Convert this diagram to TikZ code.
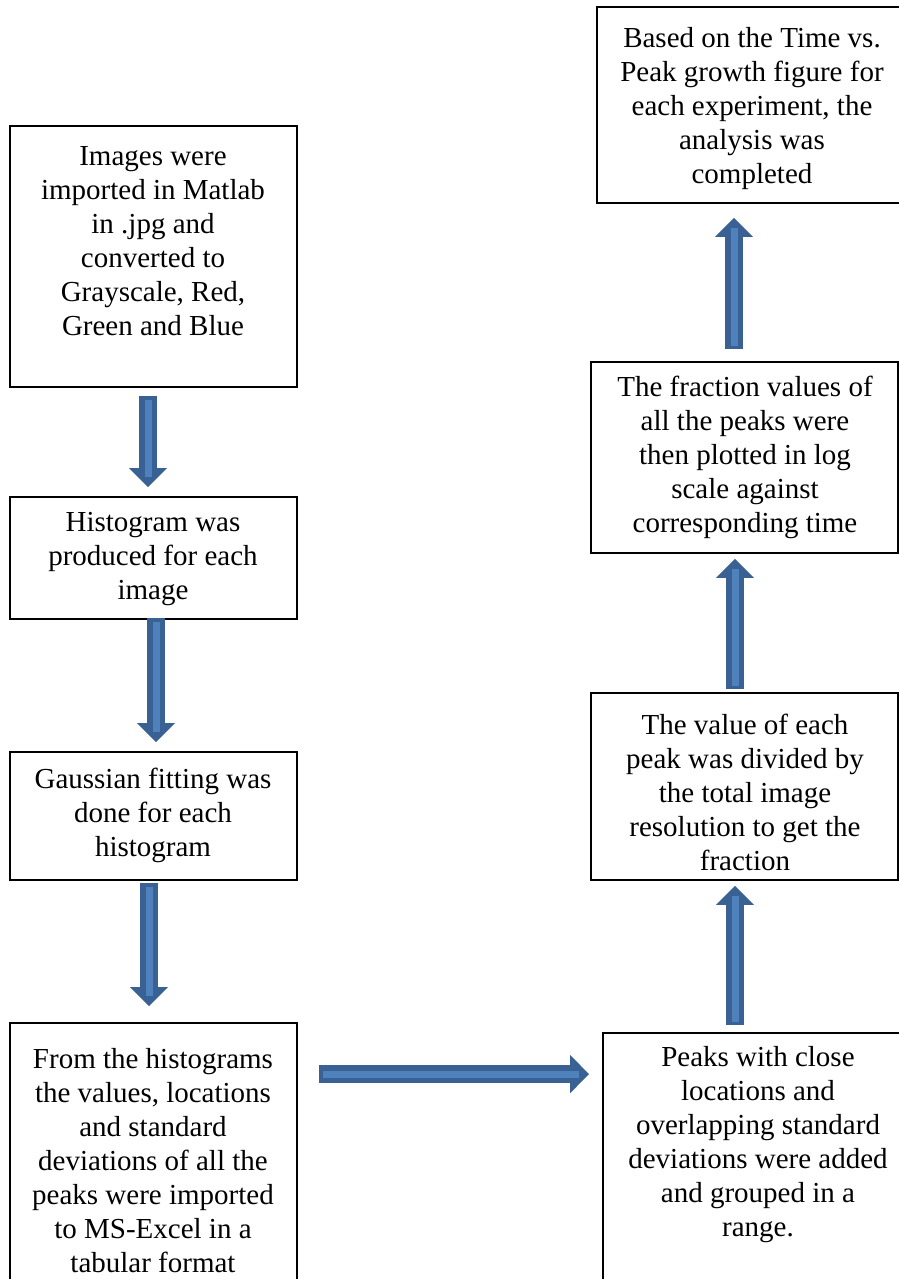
\documentclass[tikz,border=0pt]{standalone}
\usepackage{fontspec}
\setmainfont{Liberation Serif}
\usetikzlibrary{arrows.meta}
\definecolor{arrdark}{HTML}{3A6193}
\definecolor{arrlight}{HTML}{4F81BD}
\tikzset{
  box/.style={draw=black, line width=1.8pt, rectangle, inner sep=0pt},
  txt/.style={inner sep=0pt, align=center, font=\fontsize{29}{34}\selectfont},
  arrdk/.style={draw=arrdark, line width=18pt, -{Triangle[length=19pt,width=37pt]}},
  arrlt/.style={draw=arrlight, line width=7pt},
}
\begin{document}
\begin{tikzpicture}[x=1pt,y=-1pt]
\useasboundingbox (0,0) rectangle (899,1279);
\clip (0,0) rectangle (899,1279);
% boxes
\node[box, minimum width=287pt, minimum height=261pt] (b1) at (153.5,256.5) {};
\node[box, minimum width=287pt, minimum height=122pt] (b2) at (153.5,558) {};
\node[box, minimum width=287pt, minimum height=128pt] (b3) at (153.5,816) {};
\node[box, minimum width=287pt, minimum height=277pt] (b4) at (153.5,1161.5) {};
\node[box, minimum width=310pt, minimum height=267pt] (pk) at (758,1166.5) {};
\node[box, minimum width=307pt, minimum height=187pt] (val) at (744.5,786.5) {};
\node[box, minimum width=307pt, minimum height=191pt] (frac) at (744.5,457.5) {};
\node[box, minimum width=310pt, minimum height=196pt] (top) at (752,105) {};
% texts
\node[txt] (t1) at (153,241) {Images were\\imported in Matlab\\in .jpg and\\converted to\\Grayscale, Red,\\Green and Blue};
\node[txt] (t2) at (153,559) {Histogram was\\produced for each\\image};
\node[txt] (t3) at (153,815) {Gaussian fitting was\\done for each\\histogram};
\node[txt] (t4) at (153,1161) {From the histograms\\the values, locations\\and standard\\deviations of all the\\peaks were imported\\to MS-Excel in a\\tabular format};
\node[txt] (tpk) at (758,1145) {Peaks with close\\locations and\\overlapping standard\\deviations were added\\and grouped in a\\range.};
\node[txt] (tval) at (745,792) {The value of each\\peak was divided by\\the total image\\resolution to get the\\fraction};
\node[txt] (tfrac) at (745,457) {The fraction values of\\all the peaks were\\then plotted in log\\scale against\\corresponding time};
\node[txt] (ttop) at (752,109) {Based on the Time vs.\\Peak growth figure for\\each experiment, the\\analysis was\\completed};
% arrows left column
\draw[arrdk, shorten <=8pt, shorten >=9pt] ([xshift=-5.5pt]b1.south) -- ([xshift=-5.5pt]b2.north);
\draw[arrlt, shorten <=12pt, shorten >=19pt] ([xshift=-5.5pt]b1.south) -- ([xshift=-5.5pt]b2.north);
\draw[arrdk, shorten <=-2pt, shorten >=9pt] ([xshift=2.5pt]b2.south) -- ([xshift=2.5pt]b3.north);
\draw[arrlt, shorten <=2pt, shorten >=19pt] ([xshift=2.5pt]b2.south) -- ([xshift=2.5pt]b3.north);
\draw[arrdk, shorten <=2pt, shorten >=16pt] ([xshift=-4.5pt]b3.south) -- ([xshift=-4.5pt]b4.north);
\draw[arrlt, shorten <=6pt, shorten >=26pt] ([xshift=-4.5pt]b3.south) -- ([xshift=-4.5pt]b4.north);
% horizontal arrow
\draw[arrdk, shorten <=21pt, shorten >=13pt] ([yshift=-52pt]b4.north east) -- ([yshift=-42pt]pk.north west);
\draw[arrlt, shorten <=25pt, shorten >=23pt] ([yshift=-52pt]b4.north east) -- ([yshift=-42pt]pk.north west);
% right column arrows (upward)
\draw[arrdk, shorten <=7pt, shorten >=5pt] ([xshift=-23pt]pk.north) -- ([xshift=-9.5pt]val.south);
\draw[arrlt, shorten <=10pt, shorten >=15pt] ([xshift=-23pt]pk.north) -- ([xshift=-9.5pt]val.south);
\draw[arrdk, shorten <=3pt, shorten >=5pt] ([xshift=-9.5pt]val.north) -- ([xshift=-9.5pt]frac.south);
\draw[arrlt, shorten <=6pt, shorten >=15pt] ([xshift=-9.5pt]val.north) -- ([xshift=-9.5pt]frac.south);
\draw[arrdk, shorten <=12pt, shorten >=14pt] ([xshift=-10.5pt]frac.north) -- ([xshift=-18pt]top.south);
\draw[arrlt, shorten <=15pt, shorten >=24pt] ([xshift=-10.5pt]frac.north) -- ([xshift=-18pt]top.south);
\end{tikzpicture}
\end{document}
